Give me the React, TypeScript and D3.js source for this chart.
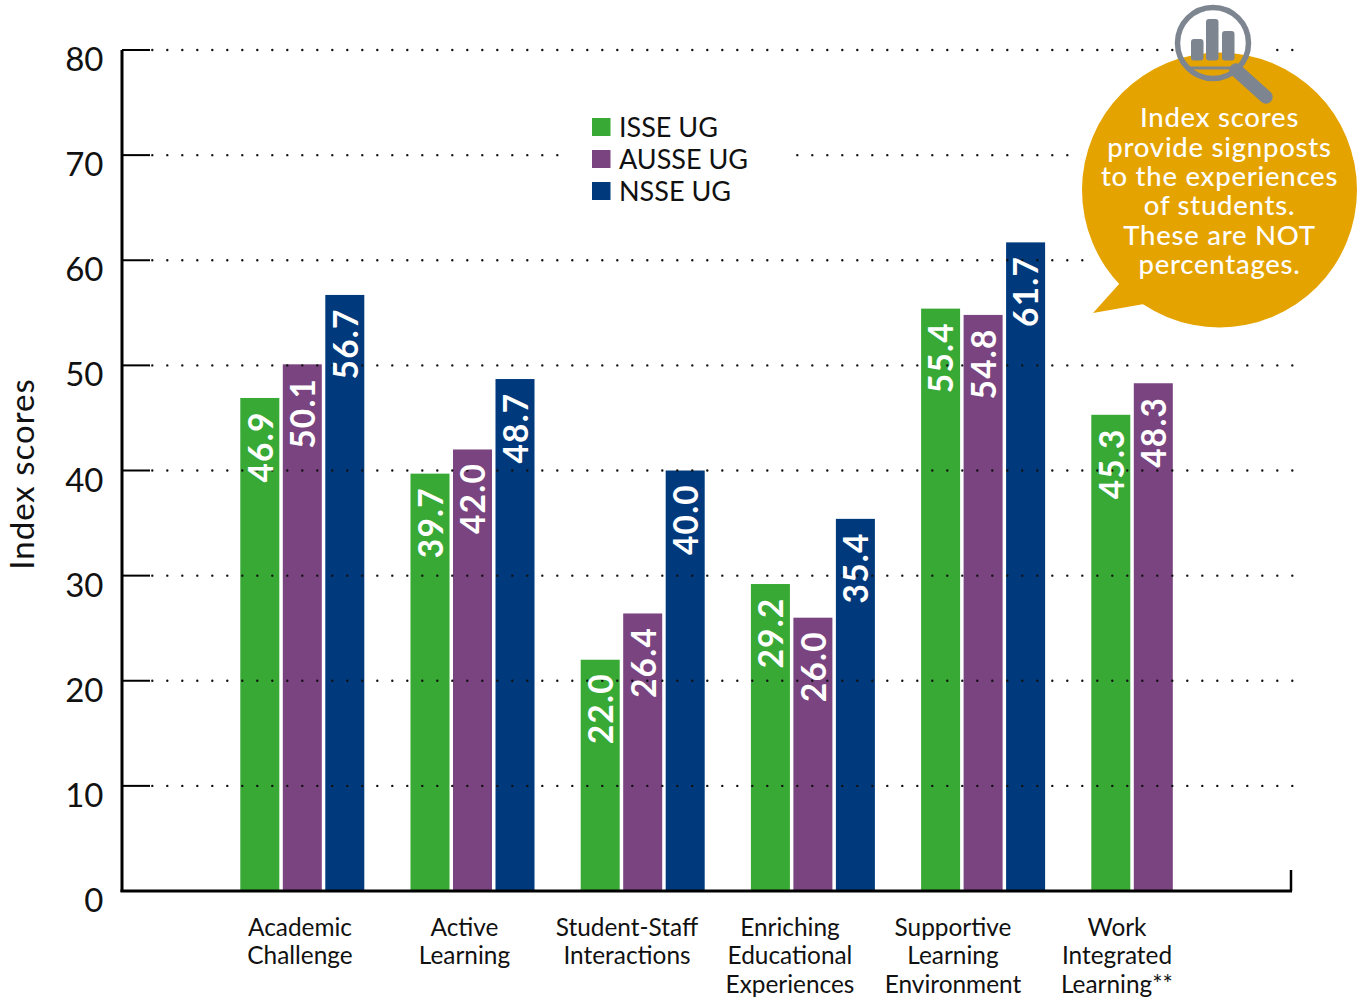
import React from "react";
import * as d3 from "d3";

const categories = ["Academic Challenge", "Active Learning", "Student-Staff Interactions", "Enriching Educational Experiences", "Supportive Learning Environment", "Work Integrated Learning**"];
const categoryLines = [["Academic", "Challenge"], ["Active", "Learning"], ["Student-Staff", "Interactions"], ["Enriching", "Educational", "Experiences"], ["Supportive", "Learning", "Environment"], ["Work", "Integrated", "Learning**"]];
const labelCentres = [300, 464.5, 627, 790, 953, 1117];
const seriesNames = ["ISSE UG", "AUSSE UG", "NSSE UG"];
const seriesColors = ["#38a935", "#7a4480", "#003a7d"];
const isse = [46.9, 39.7, 22.0, 29.2, 55.4, 45.3];
const ausse = [50.1, 42.0, 26.4, 26.0, 54.8, 48.3];
const nsse: (number | null)[] = [56.7, 48.7, 40.0, 35.4, 61.7, null];
const seriesValues = [isse, ausse, nsse];
const yTicks = [0, 10, 20, 30, 40, 50, 60, 70, 80];
const calloutLines = ["Index scores", "provide signposts", "to the experiences", "of students.", "These are NOT", "percentages."];
const font = "Lato, 'Noto Sans', sans-serif";
const GREY = "#7d8590";
const ORANGE = "#e5a300";

export default function App() {
  const y = d3.scaleLinear().domain([0, 80]).range([891, 50]);
  const x0 = d3.scaleBand<string>().domain(categories).range([240, 240 + 6 * 170.2]);
  const x1 = d3.scaleBand<string>().domain(seriesNames).range([0, 124.3]).paddingInner(0.075);
  const bw = x1.bandwidth();
  return (
    <svg width={1362} height={1000} style={{ position: "absolute", left: 0, top: 0, background: "#fff" }} fontFamily={font}>
      {categories.map((c, i) => seriesNames.map((s, k) => {
        const v = seriesValues[k][i];
        if (v == null) return null;
        const bx = x0(c)! + x1(s)!;
        return <rect key={c + s} x={bx + 0.3} y={y(v)} width={bw - 0.3} height={y(0) - y(v)} fill={seriesColors[k]} />;
      }))}
      {yTicks.filter(t => t > 0).map(t => (
        <g key={t}>
          <line x1={122} x2={150} y1={y(t)} y2={y(t)} stroke="#000" strokeWidth={2} />
          <line x1={152.3} x2={1294} y1={y(t)} y2={y(t)} stroke="#111" strokeWidth={2.4} strokeLinecap="round" strokeDasharray="0 15" />
        </g>
      ))}
      <rect x={562} y={100} width={232} height={108} fill="#fff" />
      <line x1={122} x2={122} y1={50} y2={892} stroke="#000" strokeWidth={3} />
      <line x1={120.5} x2={1292} y1={891} y2={891} stroke="#000" strokeWidth={3} />
      <line x1={1291} x2={1291} y1={870} y2={891} stroke="#000" strokeWidth={2.5} />
      {yTicks.map(t => (
        <text key={t} x={103.5} y={y(t) + 21} textAnchor="end" fontSize={33} fill="#111">{t}</text>
      ))}
      <text transform="translate(34,474) rotate(-90)" textAnchor="middle" fontSize={33} letterSpacing={1} fill="#111">Index scores</text>
      {categories.map((c, i) => seriesNames.map((s, k) => {
        const v = seriesValues[k][i];
        if (v == null) return null;
        const cx = x0(c)! + x1(s)! + bw / 2;
        return (
          <text key={c + s} transform={`translate(${cx + 13},${y(v) + 13.5}) rotate(-90)`} textAnchor="end" fontSize={33.5} letterSpacing={1.2} fontWeight={700} fill="#fff">{v.toFixed(1)}</text>
        );
      }))}
      {categoryLines.map((lines, i) => lines.map((l, j) => (
        <text key={l} x={labelCentres[i]} y={936 + j * 28.4} textAnchor="middle" fontSize={24.4} fill="#111">{l}</text>
      )))}
      {seriesNames.map((s, k) => (
        <g key={s}>
          <rect x={592} y={118 + k * 32} width={18.5} height={18} fill={seriesColors[k]} />
          <text x={619} y={136.5 + k * 32} fontSize={27} fill="#111">{s}</text>
        </g>
      ))}
      <rect x={1176} y={38} width={94} height={30} fill="#fff" />
      <circle cx={1219.5} cy={190} r={143} fill="#fff" />
      <circle cx={1219.5} cy={190} r={137.5} fill={ORANGE} />
      <path d="M1120,283 L1093,313 L1144,304 Z" fill={ORANGE} />
      <rect x={1191} y={39} width={12.5} height={21.5} rx={3} fill={GREY} />
      <rect x={1206} y={19} width={12.5} height={41.5} rx={3} fill={GREY} />
      <rect x={1222} y={31} width={12.5} height={29.5} rx={3} fill={GREY} />
      <line x1={1190} x2={1237} y1={68} y2={68} stroke={GREY} strokeWidth={3} />
      <circle cx={1213} cy={43} r={35.5} fill="none" stroke={GREY} strokeWidth={5.5} />
      <line x1={1236} x2={1266} y1={70} y2={97} stroke={GREY} strokeWidth={13.5} strokeLinecap="round" />
      {calloutLines.map((l, i) => (
        <text key={l} x={1219.5} y={127.3 + i * 29.35} textAnchor="middle" fontSize={27.5} letterSpacing={0.75} fontWeight={500} fill="#fff">{l}</text>
      ))}
    </svg>
  );
}
